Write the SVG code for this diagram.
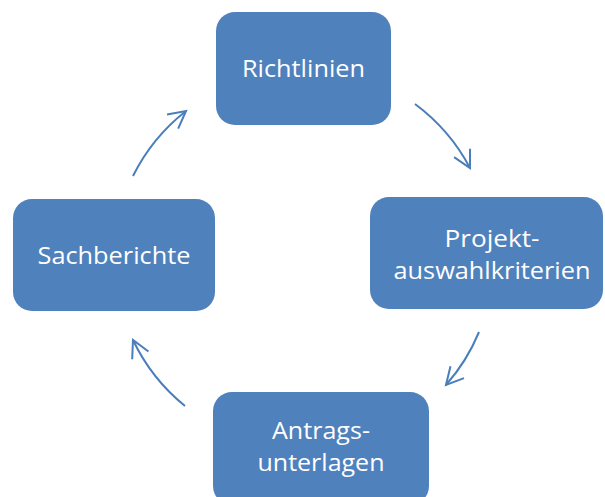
<svg xmlns="http://www.w3.org/2000/svg" width="605" height="497" viewBox="0 0 605 497">
<style>
.box{fill:#4F81BD;}
.lbl{fill:#FFFFFF;font-family:"Open Sans","Liberation Sans",sans-serif;font-size:23px;text-anchor:middle;}
.arc{fill:none;stroke:#4A7EBB;stroke-width:2;marker-end:url(#head);}
</style>
<defs>
<marker id="head" markerUnits="userSpaceOnUse" viewBox="-20 -12 24 24" refX="0" refY="0" markerWidth="24" markerHeight="24" orient="auto" overflow="visible">
<path d="M-17,-9 L0,0 L-17,9" fill="none" stroke="#4A7EBB" stroke-width="2"/>
</marker>
</defs>
<rect width="605" height="497" fill="#FFFFFF"/>
<g id="connectors">
<path class="arc" d="M415,104 A190,190 0 0 1 470,168"/>
<path class="arc" d="M479,332 A190,190 0 0 1 446,385"/>
<path class="arc" d="M185,406 A190,190 0 0 1 133,340"/>
<path class="arc" d="M133,176 A190,190 0 0 1 186,111"/>
</g>
<g id="richtlinien">
<rect class="box" x="216" y="12" width="175" height="113" rx="19"/>
<text class="lbl" x="303.5" y="77" textLength="123" lengthAdjust="spacingAndGlyphs">Richtlinien</text>
</g>
<g id="projektauswahlkriterien">
<rect class="box" x="370" y="197" width="233" height="112" rx="19"/>
<text class="lbl" x="492" y="247" textLength="95" lengthAdjust="spacingAndGlyphs">Projekt-</text>
<text class="lbl" x="492" y="279" textLength="197" lengthAdjust="spacingAndGlyphs">auswahlkriterien</text>
</g>
<g id="antragsunterlagen">
<rect class="box" x="213" y="392" width="216" height="113" rx="19"/>
<text class="lbl" x="321" y="439" textLength="98" lengthAdjust="spacingAndGlyphs">Antrags-</text>
<text class="lbl" x="321" y="471" textLength="127" lengthAdjust="spacingAndGlyphs">unterlagen</text>
</g>
<g id="sachberichte">
<rect class="box" x="13" y="199" width="202" height="112" rx="19"/>
<text class="lbl" x="114" y="264" textLength="153" lengthAdjust="spacingAndGlyphs">Sachberichte</text>
</g>
</svg>
